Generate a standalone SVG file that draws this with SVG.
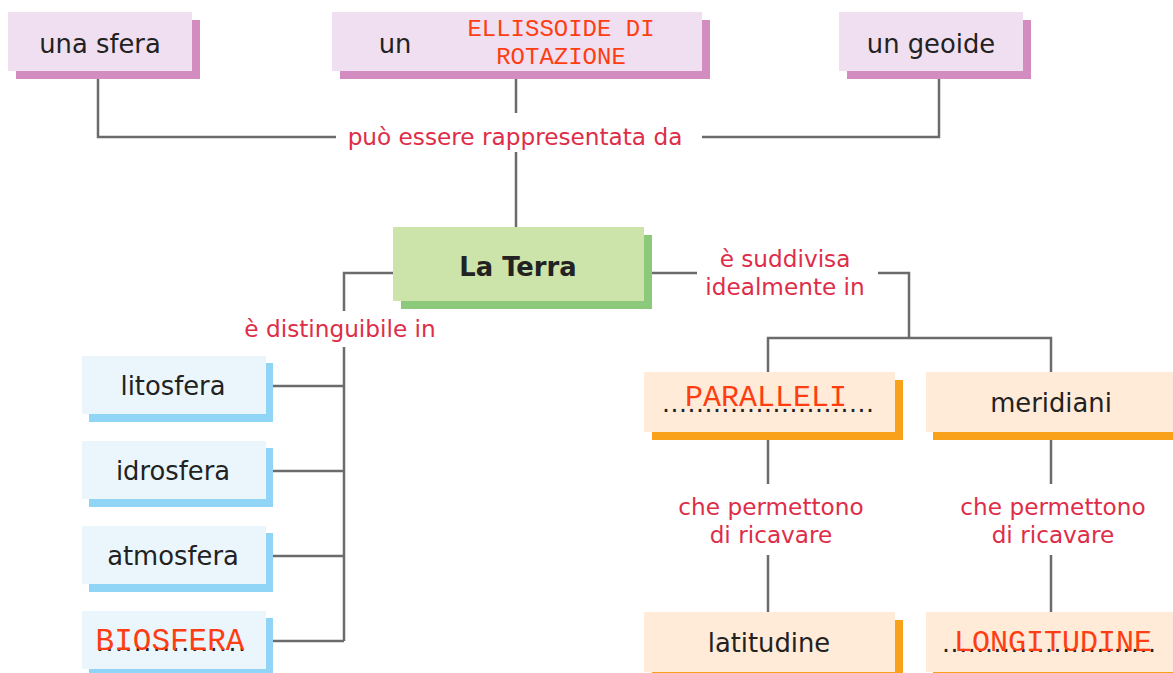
<svg xmlns="http://www.w3.org/2000/svg" width="1173" height="673" viewBox="0 0 1173 673">
<style>
.nt{font-family:"DejaVu Sans",Verdana,sans-serif;font-size:25.8px;fill:#222;text-anchor:middle}
.lb{font-family:"DejaVu Sans",Verdana,sans-serif;font-size:23.2px;fill:#de2d48;text-anchor:middle}
.rd{font-family:"Liberation Mono","DejaVu Sans Mono",monospace;fill:#ff3d12;text-anchor:middle}
.dt{font-family:"DejaVu Sans",sans-serif;font-size:25px;fill:#222}
.pk{fill:#f0dff0}.pks{fill:#d38cbf}
.gr{fill:#cce3a9}.grs{fill:#8cc97b}
.bl{fill:#eaf6fc}.bls{fill:#90d4f6}
.or{fill:#ffebd7}.ors{fill:#f9a11b}
.ln{fill:none;stroke:#6b6b6b;stroke-width:2.5}
</style>
<rect width="1173" height="673" fill="#fff"/>
<g id="connectors" class="ln">
<path d="M98,79 V137 H336"/>
<path d="M702,137 H939 V79"/>
<path d="M516,79 V113"/>
<path d="M516,152 V228"/>
<path d="M393,273 H344 V311"/>
<path d="M344,347 V641"/>
<path d="M272,386 H344 M272,471 H344 M272,556 H344 M272,641 H344"/>
<path d="M652,273 H697"/>
<path d="M878,273 H909 V338"/>
<path d="M768,372 V338 H1051 V372"/>
<path d="M768,440 V484 M768,555 V612"/>
<path d="M1051,440 V484 M1051,555 V612"/>
</g>
<g id="labels">
<text class="lb" x="515" y="145">può essere rappresentata da</text>
<text class="lb" x="785" y="267">è suddivisa</text>
<text class="lb" x="785" y="295">idealmente in</text>
<text class="lb" x="340" y="337">è distinguibile in</text>
<text class="lb" x="771" y="515">che permettono</text>
<text class="lb" x="771" y="543">di ricavare</text>
<text class="lb" x="1053" y="515">che permettono</text>
<text class="lb" x="1053" y="543">di ricavare</text>
</g>
<g id="n-sfera">
<rect class="pks" x="16" y="20" width="184" height="59"/>
<rect class="pk" x="8" y="12" width="184" height="59"/>
<text class="nt" x="100" y="53">una sfera</text>
</g>
<g id="n-ellissoide">
<rect class="pks" x="340" y="20" width="370" height="59"/>
<rect class="pk" x="332" y="12" width="370" height="59"/>
<text class="nt" x="395" y="53">un</text>
<text class="rd" x="561" y="36" font-size="24">ELLISSOIDE DI</text>
<text class="rd" x="561" y="64" font-size="24">ROTAZIONE</text>
</g>
<g id="n-geoide">
<rect class="pks" x="847" y="20" width="184" height="59"/>
<rect class="pk" x="839" y="12" width="184" height="59"/>
<text class="nt" x="931" y="53">un geoide</text>
</g>
<g id="n-terra">
<rect class="grs" x="401" y="235" width="251" height="74"/>
<rect class="gr" x="393" y="227" width="251" height="74"/>
<text class="nt" x="518" y="276" font-weight="bold" font-size="29.5">La Terra</text>
</g>
<g id="n-litosfera">
<rect class="bls" x="89" y="363" width="184" height="59"/>
<rect class="bl" x="82" y="356" width="184" height="58"/>
<text class="nt" x="173" y="395">litosfera</text>
</g>
<g id="n-idrosfera">
<rect class="bls" x="89" y="448" width="184" height="59"/>
<rect class="bl" x="82" y="441" width="184" height="58"/>
<text class="nt" x="173" y="480">idrosfera</text>
</g>
<g id="n-atmosfera">
<rect class="bls" x="89" y="533" width="184" height="59"/>
<rect class="bl" x="82" y="526" width="184" height="58"/>
<text class="nt" x="173" y="565">atmosfera</text>
</g>
<g id="n-biosfera">
<rect class="bls" x="89" y="618" width="184" height="59"/>
<rect class="bl" x="82" y="611" width="184" height="58"/>
<text class="dt" x="96" y="651" textLength="150" lengthAdjust="spacing">................</text>
<text class="rd" x="170" y="650" font-size="31">BIOSFERA</text>
</g>
<g id="n-paralleli">
<rect class="ors" x="652" y="380" width="251" height="60"/>
<rect class="or" x="644" y="372" width="251" height="60"/>
<text class="dt" x="662" y="412" textLength="212" lengthAdjust="spacing">.........................</text>
<text class="rd" x="766" y="406" font-size="30">PARALLELI</text>
</g>
<g id="n-meridiani">
<rect class="ors" x="933" y="380" width="251" height="60"/>
<rect class="or" x="926" y="372" width="251" height="60"/>
<text class="nt" x="1051" y="412">meridiani</text>
</g>
<g id="n-latitudine">
<rect class="ors" x="652" y="620" width="251" height="60"/>
<rect class="or" x="644" y="612" width="251" height="60"/>
<text class="nt" x="769" y="652">latitudine</text>
</g>
<g id="n-longitudine">
<rect class="ors" x="933" y="620" width="251" height="60"/>
<rect class="or" x="926" y="612" width="251" height="60"/>
<text class="dt" x="942" y="652" textLength="214" lengthAdjust="spacing">.........................</text>
<text class="rd" x="1053" y="651" font-size="30">LONGITUDINE</text>
</g>
</svg>
